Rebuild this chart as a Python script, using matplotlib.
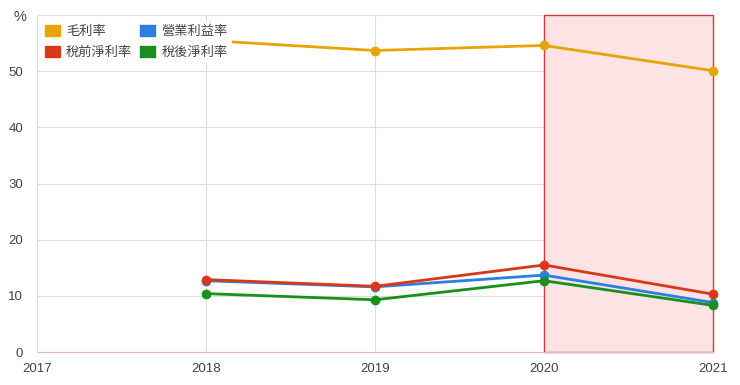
import matplotlib
matplotlib.use("Agg")
import matplotlib.pyplot as plt
from matplotlib.patches import Patch

plt.rcParams['font.family'] = ['Liberation Sans', 'Noto Sans CJK TC', 'DejaVu Sans']

years = [2018, 2019, 2020, 2021]
gross = [55.5, 53.7, 54.6, 50.1]        # 毛利率
operating = [12.7, 11.6, 13.7, 8.8]     # 營業利益率
pretax = [12.9, 11.7, 15.5, 10.3]       # 稅前淨利率
net = [10.4, 9.3, 12.7, 8.3]            # 稅後淨利率
xticks = [2017, 2018, 2019, 2020, 2021]
yticks = [0, 10, 20, 30, 40, 50]
highlight = (2020, 2021)

C_GROSS = "#e8a400"
C_OP = "#2a7fe0"
C_PRE = "#d9381a"
C_NET = "#17911c"

fig = plt.figure(figsize=(7.4, 3.85), dpi=100)
ax = fig.add_axes([0.05, 0.0857, 0.9135, 0.875])

span = ax.axvspan(*highlight, ymin=0, ymax=1, facecolor="#fde3e3",
                  edgecolor="#d9363e", linewidth=1.0, zorder=1)
span.set_clip_on(False)

for vals, col in [(gross, C_GROSS), (operating, C_OP), (net, C_NET), (pretax, C_PRE)]:
    ax.plot(years, vals, color=col, linewidth=2, marker="o", markersize=6,
            zorder=3, clip_on=False)

ax.set_xlim(2017, 2021)
ax.set_ylim(0, 60)
ax.set_xticks(xticks)
ax.set_yticks(yticks + [60])
ax.set_yticklabels([str(v) for v in yticks] + [""])
ax.grid(True, color="#dddddd", linewidth=0.8, zorder=0)
ax.set_axisbelow(True)
for s in ["top", "right", "left"]:
    ax.spines[s].set_visible(False)
ax.spines["bottom"].set_color("#e6b8bc")
ax.tick_params(axis="both", length=0, labelsize=9.5, colors="#444444")
ax.tick_params(axis="y", pad=10)
ax.tick_params(axis="x", pad=8)

fig.text(0.018, 0.955, "%", fontsize=10.5, color="#444444", va="center")

handles = [
    Patch(facecolor=C_GROSS, edgecolor=C_GROSS, label="毛利率"),
    Patch(facecolor=C_PRE, edgecolor=C_PRE, label="稅前淨利率"),
    Patch(facecolor=C_OP, edgecolor=C_OP, label="營業利益率"),
    Patch(facecolor=C_NET, edgecolor=C_NET, label="稅後淨利率"),
]
leg = ax.legend(handles=handles, ncol=2, loc="upper left",
                bbox_to_anchor=(0.0, 0.995), frameon=True, framealpha=1,
                edgecolor="none", handlelength=1.15,
                handleheight=0.9, handletextpad=0.45, columnspacing=0.6,
                labelspacing=0.6, borderpad=0.3, borderaxespad=0.3,
                prop={'family': ['Noto Sans CJK TC', 'DejaVu Sans'], 'size': 9.5})
leg.set_zorder(5)
for t in leg.get_texts():
    t.set_color("#444444")

fig.savefig("out.png", dpi=100)
